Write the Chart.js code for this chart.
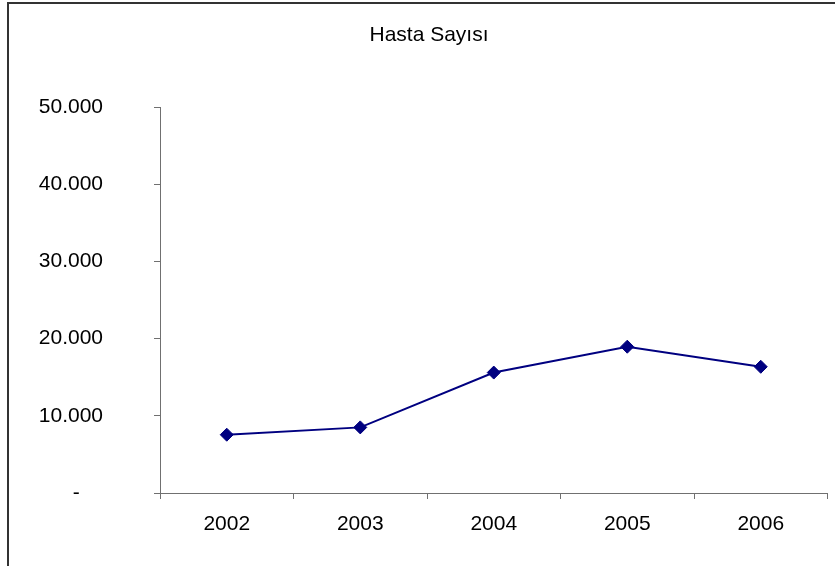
<!DOCTYPE html>
<html>
<head>
<meta charset="utf-8">
<script src="https://cdn.jsdelivr.net/npm/chart.js@4/dist/chart.umd.min.js"></script>
<style>
html,body{margin:0;padding:0;background:#fff;}
canvas{display:block;}
</style>
</head>
<body>
<canvas id="c" width="835" height="566"></canvas>
<script>
const categories = ['2002', '2003', '2004', '2005', '2006'];
const hastaSayisi = [7550, 8500, 15600, 18950, 16350];
const titleText = 'Hasta Sayısı';
const yTicks = [0, 10000, 20000, 30000, 40000, 50000];

const FONT = "'Liberation Sans', Arial, sans-serif";

const framePlugin = {
  id: 'frame',
  beforeDraw(chart) {
    const ctx = chart.ctx;
    ctx.save();
    ctx.fillStyle = '#fff';
    ctx.fillRect(0, 0, chart.width, chart.height);
    ctx.strokeStyle = '#333';
    ctx.lineWidth = 2;
    ctx.strokeRect(8, 3, chart.width + 10, chart.height + 10);
    ctx.restore();
  },
  afterDraw(chart) {
    const ctx = chart.ctx;
    ctx.save();
    ctx.fillStyle = '#000';
    ctx.font = '21px ' + FONT;
    ctx.textAlign = 'center';
    ctx.textBaseline = 'middle';
    ctx.fillText(titleText, 429, 35);
    ctx.restore();
  }
};

new Chart(document.getElementById('c'), {
  type: 'line',
  data: {
    labels: categories,
    datasets: [{
      data: hastaSayisi,
      borderColor: '#000080',
      backgroundColor: '#000080',
      borderWidth: 2,
      pointStyle: 'rectRot',
      pointRadius: 6.5,
      pointBorderWidth: 1,
      pointBackgroundColor: '#000080',
      pointBorderColor: '#000080',
      tension: 0,
      fill: false
    }]
  },
  options: {
    responsive: false,
    animation: false,
    layout: { padding: { top: 107, right: 6, left: 0, bottom: 0 } },
    plugins: { legend: { display: false }, title: { display: false }, tooltip: { enabled: false } },
    scales: {
      x: {
        offset: true,
        grid: { offset: true, drawOnChartArea: false, drawTicks: true, tickLength: 6, color: '#707070' },
        border: { color: '#707070', width: 1 },
        ticks: { color: '#000', font: { family: FONT, size: 21 }, padding: 13, maxRotation: 0 },
        afterFit(s) { s.height = 73; }
      },
      y: {
        min: 0, max: 50000,
        afterBuildTicks(s) { s.ticks = yTicks.map(v => ({ value: v })); },
        grid: { drawOnChartArea: false, drawTicks: true, tickLength: 6, color: '#707070' },
        border: { color: '#707070', width: 1 },
        ticks: {
          color: '#000',
          font: { family: FONT, size: 21 },
          padding: 51,
          callback(v) {
            if (v === 0) return '-    ';
            return v.toString().replace(/\B(?=(\d{3})+(?!\d))/g, '.');
          }
        },
        afterFit(s) { s.width = 160; }
      }
    }
  },
  plugins: [framePlugin]
});
</script>
</body>
</html>
